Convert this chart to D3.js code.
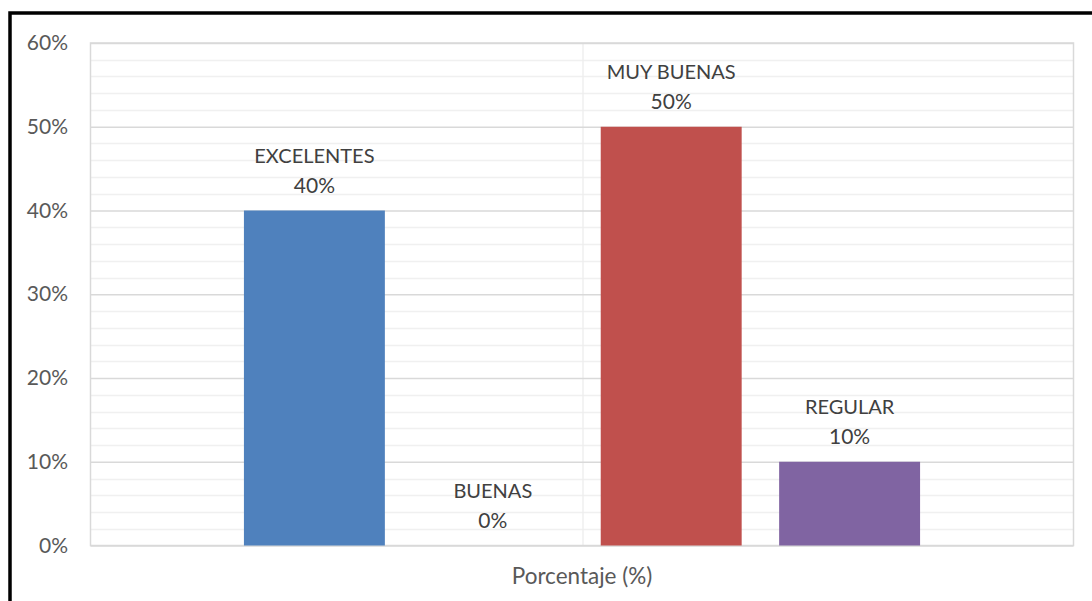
<!DOCTYPE html>
<html>
<head>
<meta charset="utf-8">
<script src="https://cdn.jsdelivr.net/npm/d3@7"></script>
<style>
  html, body { margin: 0; padding: 0; background: #fff; }
  svg { display: block; font-family: Lato, "Open Sans", sans-serif; }
</style>
</head>
<body>
<svg id="chart" width="1092" height="601"></svg>
<script>
// Survey result: share of answers per rating
const category = "Porcentaje (%)";
const series = ["EXCELENTES", "BUENAS", "MUY BUENAS", "REGULAR"];
const values = [0.40, 0.00, 0.50, 0.10];
const colors = ["#4F81BD", "#9BBB59", "#C0504D", "#8064A2"];
const yTicks = [0, 0.1, 0.2, 0.3, 0.4, 0.5, 0.6];

const svg = d3.select("#chart");
const plot = { left: 90.5, top: 43, right: 1073.5, bottom: 545.5 };
const w = plot.right - plot.left, h = plot.bottom - plot.top;

// outer frame
svg.append("rect")
  .attr("x", 10).attr("y", 13)
  .attr("width", 1200).attr("height", 700)
  .attr("fill", "none").attr("stroke", "#000").attr("stroke-width", 3.5);

const g = svg.append("g").attr("transform", `translate(${plot.left},${plot.top})`);

const y = d3.scaleLinear().domain([0, 0.6]).range([h, 0]);
const x = d3.scaleBand().domain(series).range([0, w])
  .paddingInner(0.21).paddingOuter(0.86);

// minor gridlines every 2%
const minor = d3.range(0, 0.6001, 0.02).filter(v => Math.abs(Math.round(v * 10) - v * 10) > 1e-6);
g.append("g").selectAll("line").data(minor).join("line")
  .attr("x1", 0).attr("x2", w)
  .attr("y1", d => Math.round(y(d)) + 0.5).attr("y2", d => Math.round(y(d)) + 0.5)
  .attr("stroke", "#F0F0F0").attr("stroke-width", 1.3);

// vertical gridline at the middle of the category
g.append("line")
  .attr("x1", Math.round(w / 2) + 0.5).attr("x2", Math.round(w / 2) + 0.5)
  .attr("y1", 0).attr("y2", h)
  .attr("stroke", "#EDEDED").attr("stroke-width", 1.3);

// major gridlines and y axis labels
const yAxis = d3.axisLeft(y).tickValues(yTicks).tickFormat(d3.format(".0%"))
  .tickSize(-w).tickPadding(22.5);
const ya = g.append("g").call(yAxis);
ya.select(".domain").remove();
ya.selectAll(".tick line").attr("stroke", "#D9D9D9").attr("stroke-width", 1.3);
ya.selectAll(".tick text")
  .attr("fill", "#595959").style("font-size", "21px").style("font-family", "Lato, sans-serif");

// plot area border
g.append("rect").attr("x", 0).attr("y", 0).attr("width", w).attr("height", h)
  .attr("fill", "none").attr("stroke", "#D9D9D9").attr("stroke-width", 1.5);

// bars
g.append("g").selectAll("rect").data(series).join("rect")
  .attr("x", d => x(d))
  .attr("width", x.bandwidth())
  .attr("y", (d, i) => y(values[i]))
  .attr("height", (d, i) => y(0) - y(values[i]))
  .attr("fill", (d, i) => colors[i]);

// data labels: series name over value
const fmt = d3.format(".0%");
const lbl = g.append("g").selectAll("g").data(series).join("g")
  .attr("transform", (d, i) => `translate(${x(d) + x.bandwidth() / 2},${y(values[i])})`);
lbl.append("text")
  .attr("text-anchor", "middle").attr("y", -48)
  .attr("fill", "#404040").style("font-size", "20px")
  .text(d => d);
lbl.append("text")
  .attr("text-anchor", "middle").attr("y", -18)
  .attr("fill", "#404040").style("font-size", "21px")
  .text((d, i) => fmt(values[i]));

// category label under the axis
g.append("text")
  .attr("x", w / 2).attr("y", h + 38)
  .attr("text-anchor", "middle")
  .attr("fill", "#595959").style("font-size", "22.5px")
  .text(category);
</script>
</body>
</html>
